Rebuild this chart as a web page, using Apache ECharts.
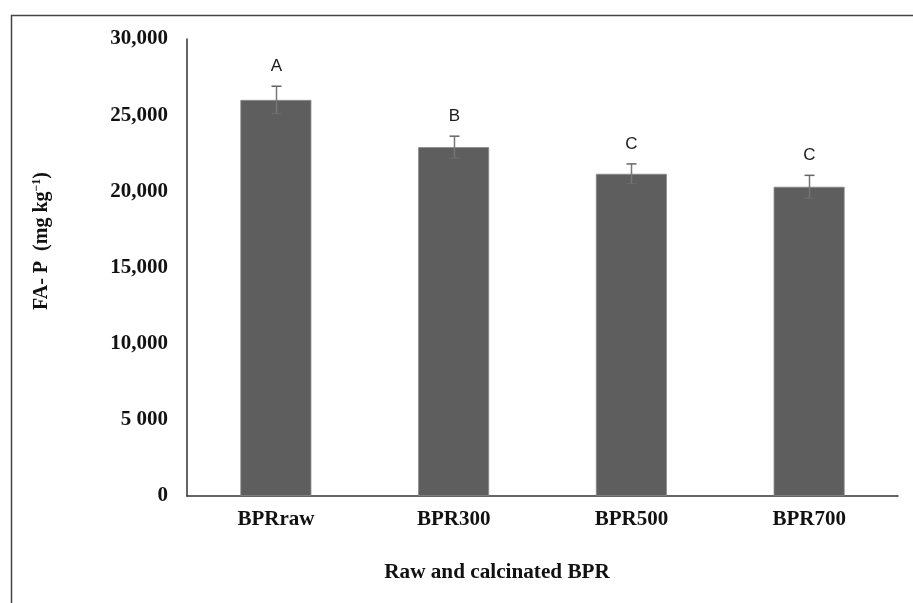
<!DOCTYPE html>
<html>
<head>
<meta charset="utf-8">
<script src="https://cdn.jsdelivr.net/npm/echarts@6/dist/echarts.min.js"></script>
<style>
  html, body { margin: 0; padding: 0; background: #fff; }
  #chart { width: 913px; height: 603px; }
</style>
</head>
<body>
<div id="chart"></div>
<script>
// data
const categories = ['BPRraw', 'BPR300', 'BPR500', 'BPR700'];
const values = [26000, 22900, 21150, 20300];
const errors = [900, 720, 650, 750];
const letters = ['A', 'B', 'C', 'C'];
const yTickLabels = ['0', '5 000', '10,000', '15,000', '20,000', '25,000', '30,000'];

const serif = '"Liberation Serif", "Times New Roman", serif';
const chart = echarts.init(document.getElementById('chart'));

const option = {
  animation: false,
  backgroundColor: '#fff',
  grid: { left: 187, top: 39, right: 15, bottom: 107 },
  xAxis: {
    type: 'category',
    data: categories,
    axisLine: { lineStyle: { color: '#333', width: 1.5 } },
    axisTick: { show: false },
    axisLabel: {
      margin: 13,
      fontFamily: serif,
      fontWeight: 'bold',
      fontSize: 21,
      color: '#111'
    }
  },
  yAxis: {
    type: 'value',
    min: 0,
    max: 30000,
    interval: 5000,
    splitLine: { show: false },
    axisTick: { show: false },
    axisLine: { show: true, lineStyle: { color: '#333', width: 1.5 } },
    axisLabel: {
      margin: 19,
      fontFamily: serif,
      fontWeight: 'bold',
      fontSize: 21,
      color: '#111',
      formatter: (v) => yTickLabels[Math.round(v / 5000)]
    }
  },
  series: [
    {
      type: 'bar',
      data: values,
      barWidth: 71,
      itemStyle: { color: '#5e5e5e', borderColor: '#8a8a8a', borderWidth: 0.8 }
    },
    {
      // error bars + significance letters
      type: 'custom',
      data: values.map((v, i) => [i, v, errors[i]]),
      z: 5,
      renderItem: (params, api) => {
        const i = api.value(0);
        const v = api.value(1);
        const e = api.value(2);
        const top = api.coord([i, v + e]);
        const bot = api.coord([i, v - e]);
        const x = Math.round(top[0]) + 0.5;
        const cap = 5;
        return {
          type: 'group',
          children: [
            {
              type: 'line',
              shape: { x1: x, y1: top[1], x2: x, y2: bot[1] },
              style: { stroke: '#777', lineWidth: 1.5 }
            },
            {
              type: 'line',
              shape: { x1: x - cap, y1: top[1], x2: x + cap, y2: top[1] },
              style: { stroke: '#666', lineWidth: 1.5 }
            },
            {
              type: 'line',
              shape: { x1: x - cap, y1: bot[1], x2: x + cap, y2: bot[1] },
              style: { stroke: '#6e6e6e', lineWidth: 1 }
            },
            {
              type: 'text',
              x: x,
              y: top[1] - 20,
              style: {
                text: letters[params.dataIndex],
                fontFamily: '"Liberation Sans", Arial, sans-serif',
                fontSize: 17,
                fill: '#1a1a1a',
                align: 'center',
                verticalAlign: 'middle'
              }
            }
          ]
        };
      }
    }
  ],
  graphic: [
    {
      type: 'rect',
      z: -1,
      shape: { x: 11.5, y: 15.5, width: 1000, height: 700 },
      style: { fill: 'none', stroke: '#444', lineWidth: 1.5 }
    },
    {
      type: 'text',
      x: 42,
      y: 241,
      rotation: Math.PI / 2,
      style: {
        text: '{m|FA- P  (mg kg}{s|−1}{m|)}',
        align: 'center',
        verticalAlign: 'middle',
        fill: '#111',
        rich: {
          m: { fontFamily: serif, fontWeight: 'bold', fontSize: 20, lineHeight: 22 },
          s: { fontFamily: serif, fontWeight: 'bold', fontSize: 12, lineHeight: 22, verticalAlign: 'top' }
        }
      }
    },
    {
      type: 'text',
      x: 497,
      y: 573,
      scaleX: 1.06,
      style: {
        text: 'Raw and calcinated BPR',
        align: 'center',
        verticalAlign: 'middle',
        fontFamily: serif,
        fontWeight: 'bold',
        fontSize: 20,
        fill: '#111'
      }
    }
  ]
};

chart.setOption(option);
window.addEventListener('resize', () => chart.resize());
</script>
</body>
</html>
